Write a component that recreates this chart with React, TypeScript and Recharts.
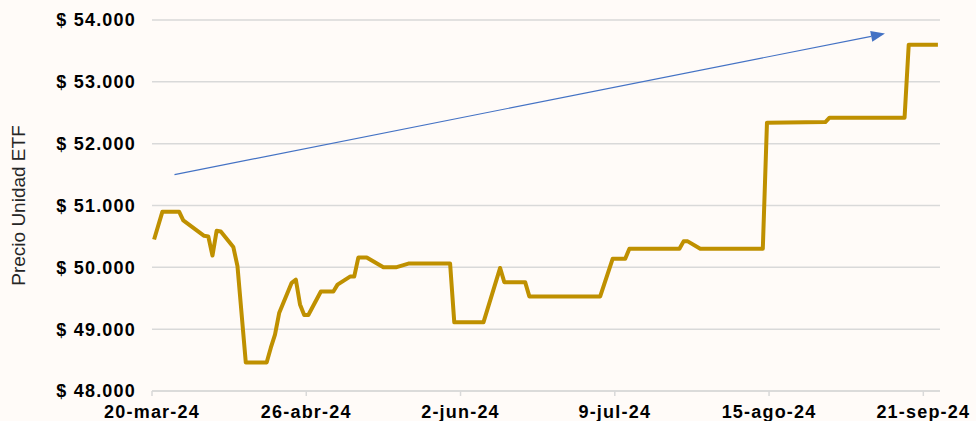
import React from 'react'
import { LineChart, Line, XAxis, YAxis, CartesianGrid, ReferenceLine } from 'recharts'

// vertices of the price line (daily closes)
const dates = [
    '2024-03-20', '2024-03-22', '2024-03-26', '2024-03-27', '2024-04-01', '2024-04-02',
    '2024-04-03', '2024-04-04', '2024-04-05', '2024-04-08', '2024-04-09', '2024-04-11',
    '2024-04-16', '2024-04-17', '2024-04-18', '2024-04-19', '2024-04-22', '2024-04-23',
    '2024-04-24', '2024-04-25', '2024-04-26', '2024-04-29', '2024-05-02', '2024-05-03',
    '2024-05-06', '2024-05-07', '2024-05-08', '2024-05-10', '2024-05-14', '2024-05-17',
    '2024-05-20', '2024-05-30', '2024-05-31', '2024-06-07', '2024-06-11', '2024-06-12',
    '2024-06-17', '2024-06-18', '2024-07-05', '2024-07-08', '2024-07-11', '2024-07-12',
    '2024-07-24', '2024-07-25', '2024-07-26', '2024-07-29', '2024-08-13', '2024-08-14',
    '2024-08-28', '2024-08-29', '2024-09-16', '2024-09-17', '2024-09-24',
]

const prices = [
    50450, 50900, 50900, 50760, 50510, 50500,
    50190, 50590, 50580, 50330, 50020, 48460,
    48460, 48700, 48910, 49260, 49750, 49800,
    49400, 49230, 49230, 49610, 49610, 49720,
    49850, 49850, 50160, 50160, 50000, 50000,
    50060, 50060, 49110, 49110, 49990, 49760,
    49760, 49530, 49530, 50140, 50140, 50300,
    50300, 50420, 50420, 50300, 50300, 52340,
    52350, 52420, 52420, 53600, 53600,
]

const tickDates = ['2024-03-20', '2024-04-26', '2024-06-02', '2024-07-09', '2024-08-15', '2024-09-21']
const tickLabels = ['20-mar-24', '26-abr-24', '2-jun-24', '9-jul-24', '15-ago-24', '21-sep-24']
const axisEnd = '2024-09-25'

const yTicks = [48000, 49000, 50000, 51000, 52000, 53000, 54000]

// trend arrow drawn over the chart (day offset, price)
const arrowStart = { day: 5.4, price: 51500 }
const arrowEnd = { day: 175.8, price: 53780 }

const DAY = 86400000
const origin = Date.UTC(2024, 2, 20)
const dayOf = (d: string) => {
    const [y, m, dd] = d.split('-').map(Number)
    return Math.round((Date.UTC(y, m - 1, dd) - origin) / DAY)
}

// Excel centres each point inside its day slot
const data = dates.map((d, i) => ({ x: dayOf(d) + 0.5, price: prices[i] }))
const xTicks = tickDates.map(dayOf)

const FONT = "'Liberation Sans', Arial, Helvetica, sans-serif"

const money = (v: number) => '$ ' + String(v).replace(/\B(?=(\d{3})+(?!\d))/g, '.')

const YTick = ({ x, y, payload }: any) => (
    <text x={x} y={y} dy="0.355em" textAnchor="end" fontFamily={FONT} fontSize={18}
        fontWeight={700} letterSpacing={1.2} fill="#000">
        {money(payload.value)}
    </text>
)

const XTick = ({ x, y, payload }: any) => {
    const idx = xTicks.indexOf(payload.value)
    return (
        <text x={x} y={y} dy="0.71em" textAnchor="middle" fontFamily={FONT} fontSize={18}
            fontWeight={700} letterSpacing={1.2} fill="#000">
            {tickLabels[idx]}
        </text>
    )
}

const Arrow = (props: any) => {
    const { x1, y1, x2, y2 } = props
    const ang = Math.atan2(y2 - y1, x2 - x1)
    const len = 14
    const half = 5.5
    const bx = x2 - len * Math.cos(ang)
    const by = y2 - len * Math.sin(ang)
    const px = -Math.sin(ang) * half
    const py = Math.cos(ang) * half
    return (
        <g>
            <line x1={x1} y1={y1} x2={bx} y2={by} stroke="#4472C4" strokeWidth={1.2} />
            <polygon points={`${x2},${y2} ${bx + px},${by + py} ${bx - px},${by - py}`} fill="#4472C4" />
        </g>
    )
}

const App = () => {
    return (
        <div style={{ position: 'fixed', left: 0, top: 0, width: 976, height: 421, background: '#FFFBF8' }}>
            <LineChart width={976} height={421} data={data} margin={{ top: 20, right: 36, bottom: 0, left: 0 }}>
                <CartesianGrid vertical={false} stroke="#D9D9D9" strokeWidth={1.5} />
                <XAxis
                    dataKey="x"
                    type="number"
                    domain={[0, dayOf(axisEnd)]}
                    ticks={xTicks}
                    interval={0}
                    height={30}
                    tick={<XTick />}
                    tickSize={5}
                    tickMargin={9}
                    axisLine={{ stroke: '#D9D9D9', strokeWidth: 1.5 }}
                    tickLine={{ stroke: '#D9D9D9', strokeWidth: 1.5 }}
                />
                <YAxis
                    type="number"
                    domain={[48000, 54000]}
                    ticks={yTicks}
                    interval={0}
                    width={152}
                    axisLine={false}
                    tickLine={false}
                    tickSize={6}
                    tickMargin={10}
                    tick={<YTick />}
                    label={{
                        content: ({ viewBox }: any) => (
                            <text
                                transform={`translate(18, ${viewBox.y + viewBox.height / 2}) rotate(-90)`}
                                textAnchor="middle"
                                dominantBaseline="central"
                                fontFamily={FONT}
                                fontSize={19}
                                fill="#262626"
                            >
                                Precio Unidad ETF
                            </text>
                        ),
                    }}
                />
                <Line
                    type="linear"
                    dataKey="price"
                    stroke="#BF9000"
                    strokeWidth={4}
                    strokeLinejoin="round"
                    dot={false}
                    activeDot={false}
                    isAnimationActive={false}
                />
                <ReferenceLine
                    segment={[
                        { x: arrowStart.day, y: arrowStart.price },
                        { x: arrowEnd.day, y: arrowEnd.price },
                    ]}
                    ifOverflow="visible"
                    shape={<Arrow />}
                />
            </LineChart>
        </div>
    )
}

export default App
